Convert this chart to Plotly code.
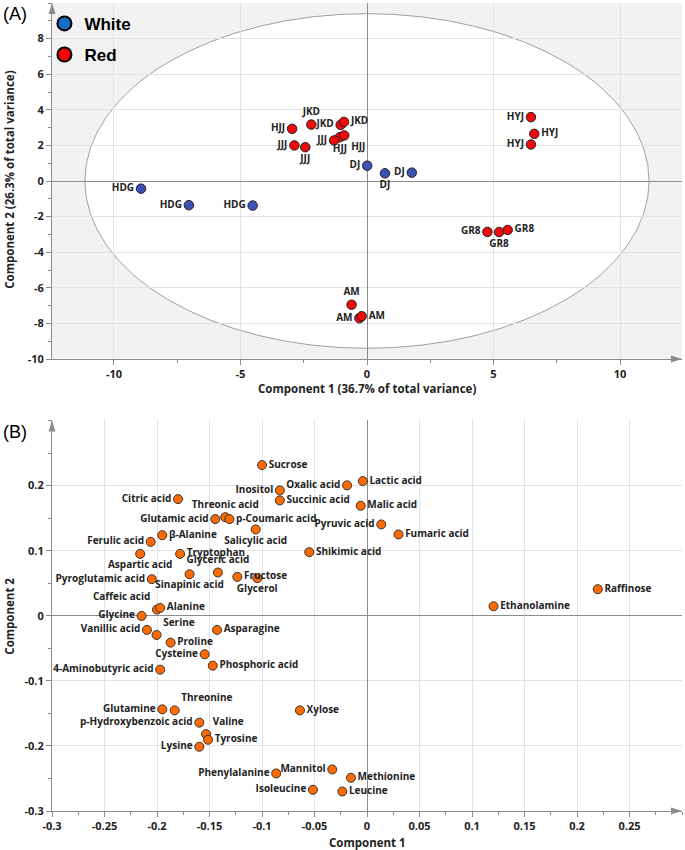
import plotly.graph_objects as go

# ---------------- Panel A: scores ----------------
sample_labels = ["HDG", "HDG", "HDG", "DJ", "DJ", "DJ",
                 "JKD", "JKD", "JKD", "HJJ", "HJJ", "HJJ",
                 "JJJ", "JJJ", "JJJ", "HYJ", "HYJ", "HYJ",
                 "GR8", "GR8", "GR8", "AM", "AM", "AM"]
sample_group = ["White"] * 6 + ["Red"] * 18
score_comp1 = [-8.93, -7.04, -4.52, 0.01, 0.71, 1.77,
               -2.20, -1.04, -0.91, -2.96, -1.07, -0.90,
               -2.87, -2.44, -1.30, 6.48, 6.61, 6.48,
               4.76, 5.22, 5.56, -0.61, -0.30, -0.21]
score_comp2 = [-0.43, -1.36, -1.38, 0.86, 0.43, 0.47,
               3.17, 3.15, 3.32, 2.93, 2.46, 2.56,
               2.00, 1.90, 2.28, 3.59, 2.65, 2.05,
               -2.86, -2.87, -2.75, -6.95, -7.71, -7.60]
ellipse_semi_axes = [11.15, 9.4]
a_xticks = [-10, -5, 0, 5, 10]
a_xticklabels = ["-10", "-5", "0", "5", "10"]
a_yticks = [-10, -8, -6, -4, -2, 0, 2, 4, 6, 8]
a_yticklabels = ["-10", "-8", "-6", "-4", "-2", "0", "2", "4", "6", "8"]

# ---------------- Panel B: loadings ----------------
metabolites = ["Sucrose", "Oxalic acid", "Inositol", "Succinic acid", "Citric acid",
               "Threonic acid", "p-Coumaric acid", "Glutamic acid", "Salicylic acid",
               "β-Alanine", "Ferulic acid", "Aspartic acid", "Tryptophan", "Shikimic acid",
               "Glyceric acid", "Sinapinic acid", "Pyroglutamic acid", "Fructose", "Glycerol",
               "Caffeic acid", "Alanine", "Glycine", "Lactic acid", "Malic acid",
               "Pyruvic acid", "Fumaric acid", "Raffinose", "Ethanolamine",
               "Vanillic acid", "Serine", "Proline", "Asparagine", "Cysteine",
               "Phosphoric acid", "4-Aminobutyric acid", "Glutamine", "Threonine",
               "p-Hydroxybenzoic acid", "Valine", "Tyrosine", "Lysine", "Xylose",
               "Phenylalanine", "Mannitol", "Isoleucine", "Leucine", "Methionine"]
loading_comp1 = [-0.100, -0.019, -0.083, -0.083, -0.180,
                 -0.135, -0.131, -0.1445, -0.106,
                 -0.195, -0.206, -0.216, -0.178, -0.055,
                 -0.142, -0.169, -0.205, -0.1235, -0.1045,
                 -0.200, -0.197, -0.2147, -0.004, -0.006,
                 0.0136, 0.030, 0.2198, 0.1205,
                 -0.2096, -0.2004, -0.187, -0.1428, -0.1546,
                 -0.1469, -0.197, -0.195, -0.1832,
                 -0.1597, -0.1533, -0.1514, -0.1597, -0.0639,
                 -0.0865, -0.0331, -0.0515, -0.0235, -0.0153]
loading_comp2 = [0.2315, 0.2003, 0.1926, 0.1772, 0.1792,
                 0.1515, 0.1485, 0.1485, 0.1326,
                 0.1238, 0.1135, 0.095, 0.095, 0.0977,
                 0.0664, 0.0638, 0.0562, 0.0597, 0.0577,
                 0.0095, 0.012, -0.0003, 0.2069, 0.169,
                 0.1403, 0.1249, 0.0408, 0.0146,
                 -0.0218, -0.0295, -0.0413, -0.0218, -0.0592,
                 -0.0767, -0.0828, -0.1438, -0.1454,
                 -0.1643, -0.1818, -0.1905, -0.2013, -0.1454,
                 -0.2423, -0.2362, -0.2674, -0.270, -0.249]
b_xticks = [-0.3, -0.25, -0.2, -0.15, -0.1, -0.05, 0, 0.05, 0.1, 0.15, 0.2, 0.25]
b_xticklabels = ["-0.3", "-0.25", "-0.2", "-0.15", "-0.1", "-0.05", "0",
                 "0.05", "0.1", "0.15", "0.2", "0.25"]
b_yticks = [-0.3, -0.2, -0.1, 0, 0.1, 0.2]
b_yticklabels = ["-0.3", "-0.2", "-0.1", "0", "0.1", "0.2"]

# ---------------- styling (not data) ----------------
sample_textpos = ["middle left", "middle left", "middle left",
                  "middle left", "bottom center", "middle left",
                  "top center", "middle left", "middle right",
                  "middle left", "bottom center", "bottom right",
                  "middle left", "bottom center", "middle left",
                  "middle left", "middle right", "middle left",
                  "middle left", "bottom center", "middle right",
                  "top center", "middle left", "middle right"]
metab_textpos = ["middle right", "middle left", "middle left", "middle right", "middle left",
                 "top center", "middle right", "middle left", "bottom center",
                 "middle right", "middle left", "bottom center", "middle right", "middle right",
                 "top center", "bottom center", "middle left", "middle right", "bottom center",
                 "top left", "middle right", "middle left", "middle right", "middle right",
                 "middle left", "middle right", "middle right", "middle right",
                 "middle left", "top right", "middle right", "middle right", "middle left",
                 "middle right", "middle left", "middle left", "top right",
                 "middle left", "top right", "middle right", "middle left", "middle right",
                 "middle left", "middle left", "middle left", "middle right", "middle right"]

FONT = "Open Sans"
TXT = "#222222"
GRID = "#e2e2e2"
AXC = "#8c8c8c"
point_colors = {"White": "#3d50b6", "Red": "#ee0a0a"}
legend_colors = {"White": "#156fc8", "Red": "#ff0000"}

fig = go.Figure()

# legend-only entries
for g in ["White", "Red"]:
    fig.add_trace(go.Scatter(
        x=[None], y=[None], mode="markers", name=g, xaxis="x", yaxis="y",
        legendgroup=g,
        marker=dict(size=14, color=legend_colors[g], line=dict(color="black", width=2)),
        showlegend=True))

for g in ["White", "Red"]:
    idx = [i for i, s in enumerate(sample_group) if s == g]
    fig.add_trace(go.Scatter(
        x=[score_comp1[i] for i in idx], y=[score_comp2[i] for i in idx],
        text=[sample_labels[i] for i in idx],
        textposition=[sample_textpos[i] for i in idx],
        mode="markers+text", xaxis="x", yaxis="y", showlegend=False,
        marker=dict(size=9.5, color=point_colors[g], line=dict(color="#222222", width=1)),
        textfont=dict(family=FONT, size=10, color=TXT, weight="bold"),
        cliponaxis=False))

fig.add_trace(go.Scatter(
    x=loading_comp1, y=loading_comp2, text=metabolites, textposition=metab_textpos,
    mode="markers+text", xaxis="x2", yaxis="y2", showlegend=False,
    marker=dict(size=9, color="#ff6a00", line=dict(color="#333333", width=1)),
    textfont=dict(family=FONT, size=10, color=TXT, weight="bold"),
    cliponaxis=False))

tickfont = dict(family=FONT, size=11, color=TXT, weight="bold")

def axis_common():
    return dict(showgrid=True, gridcolor=GRID, gridwidth=1,
                zeroline=True, zerolinecolor=AXC, zerolinewidth=1,
                showline=True, linecolor=AXC, linewidth=1,
                ticks="outside", ticklen=5, tickcolor=AXC, tickwidth=1,
                tickfont=tickfont, tickmode="array", fixedrange=True)

top_dom = [0.5594, 1.0]
bot_dom = [0.0, 0.4833]

fig.update_layout(
    width=685, height=850,
    margin=dict(l=52, r=3, t=3, b=39),
    paper_bgcolor="white", plot_bgcolor="white",
    font=dict(family=FONT, color=TXT),
    xaxis=dict(domain=[0, 1], anchor="y", range=[-12.45, 12.45],
               tickvals=a_xticks, ticktext=a_xticklabels,
               minor=dict(tick0=0, dtick=2.5, ticks="outside", ticklen=3, tickcolor=AXC, showgrid=False),
               **axis_common()),
    yaxis=dict(domain=top_dom, anchor="x", range=[-10, 10],
               tickvals=a_yticks, ticktext=a_yticklabels,
               minor=dict(tick0=0, dtick=1, ticks="outside", ticklen=3, tickcolor=AXC, showgrid=False),
               **axis_common()),
    xaxis2=dict(domain=[0, 1], anchor="y2", range=[-0.3, 0.3],
                tickvals=b_xticks, ticktext=b_xticklabels,
                minor=dict(tick0=0, dtick=0.025, ticks="outside", ticklen=3, tickcolor=AXC, showgrid=False),
                **axis_common()),
    yaxis2=dict(domain=bot_dom, anchor="x2", range=[-0.3, 0.3],
                tickvals=b_yticks, ticktext=b_yticklabels,
                minor=dict(tick0=0, dtick=0.05, ticks="outside", ticklen=3, tickcolor=AXC, showgrid=False),
                **axis_common()),
    legend=dict(x=-0.012, y=0.9965, xanchor="left", yanchor="top",
                bgcolor="rgba(0,0,0,0)", borderwidth=0, itemsizing="trace",
                font=dict(family="Arial, Liberation Sans", size=17, color="black", weight="bold"),
                tracegroupgap=6),
    showlegend=True,
)

shapes = [
    dict(type="rect", xref="x domain", yref="y domain", x0=0, x1=1, y0=0, y1=1,
         fillcolor="#f2f2f2", line=dict(width=0), layer="below"),
    dict(type="circle", xref="x", yref="y",
         x0=-ellipse_semi_axes[0], x1=ellipse_semi_axes[0],
         y0=-ellipse_semi_axes[1], y1=ellipse_semi_axes[1],
         fillcolor="white", line=dict(color="#a0a0a0", width=1), layer="below"),
]
# axis arrowheads
for xr, yr in [("x domain", "y domain"), ("x2 domain", "y2 domain")]:
    shapes.append(dict(type="path", xref=xr, yref=yr, xsizemode="pixel", ysizemode="pixel",
                       xanchor=0, yanchor=1, path="M-3.5,-11 L3.5,-11 L0,0 Z",
                       fillcolor=AXC, line=dict(width=0), layer="above"))
    shapes.append(dict(type="path", xref=xr, yref=yr, xsizemode="pixel", ysizemode="pixel",
                       xanchor=1, yanchor=0, path="M0,0 L-11,3.5 L-11,-3.5 Z",
                       fillcolor=AXC, line=dict(width=0), layer="above"))
fig.update_layout(shapes=shapes)

title_font = dict(family=FONT, size=11.5, color=TXT, weight="bold")
panel_font = dict(family="Arial, Liberation Sans", size=18, color="black")
fig.update_layout(annotations=[
    dict(text="(A)", xref="paper", yref="paper", x=-0.081, y=0.986, xanchor="left",
         yanchor="middle", showarrow=False, font=panel_font),
    dict(text="(B)", xref="paper", yref="paper", x=-0.081, y=0.469, xanchor="left",
         yanchor="middle", showarrow=False, font=panel_font),
    dict(text="Component 1 (36.7% of total variance)", xref="paper", yref="paper",
         x=0.5, y=0.5223, xanchor="center", yanchor="middle", showarrow=False, font=title_font),
    dict(text="Component 2 (26.3% of total variance)", xref="paper", yref="paper",
         x=-0.067, y=0.781, xanchor="center", yanchor="middle", textangle=-90,
         showarrow=False, font=title_font),
    dict(text="Component 1", xref="paper", yref="paper",
         x=0.5, y=-0.0384, xanchor="center", yanchor="middle", showarrow=False, font=title_font),
    dict(text="Component 2", xref="paper", yref="paper",
         x=-0.067, y=0.2415, xanchor="center", yanchor="middle", textangle=-90,
         showarrow=False, font=title_font),
])

fig.write_html("out.html",
               config={"displayModeBar": False},
               post_script="document.body.style.margin='0px';document.body.style.overflow='hidden';")
